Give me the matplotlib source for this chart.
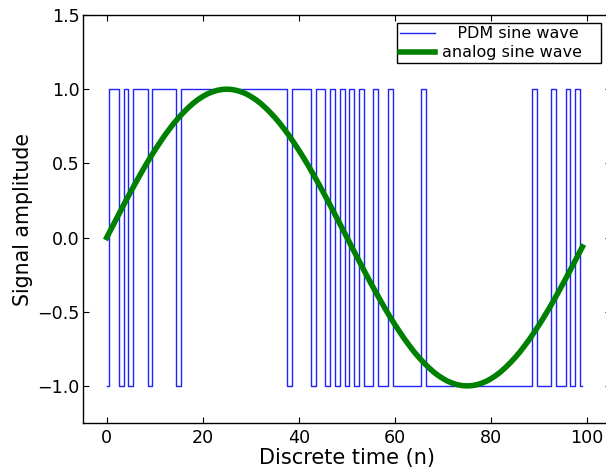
import matplotlib
matplotlib.use('Agg')
import matplotlib.pyplot as plt
import numpy as np

# discrete time index and signal values
n = list(range(100))

pdm = [-1, 1, 1, -1, 1, -1, 1, 1, 1, -1,
       1, 1, 1, 1, 1, -1, 1, 1, 1, 1,
       1, 1, 1, 1, 1, 1, 1, 1, 1, 1,
       1, 1, 1, 1, 1, 1, 1, 1, -1, 1,
       1, 1, 1, -1, 1, 1, -1, 1, -1, 1,
       -1, 1, -1, 1, -1, -1, 1, -1, -1, 1,
       -1, -1, -1, -1, -1, -1, 1, -1, -1, -1,
       -1, -1, -1, -1, -1, -1, -1, -1, -1, -1,
       -1, -1, -1, -1, -1, -1, -1, -1, -1, 1,
       -1, -1, -1, 1, -1, -1, 1, -1, 1, -1]

analog = [0.000, 0.063, 0.125, 0.187, 0.249, 0.309, 0.368, 0.426, 0.482, 0.536,
          0.588, 0.637, 0.685, 0.729, 0.771, 0.809, 0.844, 0.876, 0.905, 0.930,
          0.951, 0.969, 0.982, 0.992, 0.998, 1.000, 0.998, 0.992, 0.982, 0.969,
          0.951, 0.930, 0.905, 0.876, 0.844, 0.809, 0.771, 0.729, 0.685, 0.637,
          0.588, 0.536, 0.482, 0.426, 0.368, 0.309, 0.249, 0.187, 0.125, 0.063,
          0.000, -0.063, -0.125, -0.187, -0.249, -0.309, -0.368, -0.426, -0.482, -0.536,
          -0.588, -0.637, -0.685, -0.729, -0.771, -0.809, -0.844, -0.876, -0.905, -0.930,
          -0.951, -0.969, -0.982, -0.992, -0.998, -1.000, -0.998, -0.992, -0.982, -0.969,
          -0.951, -0.930, -0.905, -0.876, -0.844, -0.809, -0.771, -0.729, -0.685, -0.637,
          -0.588, -0.536, -0.482, -0.426, -0.368, -0.309, -0.249, -0.187, -0.125, -0.063]

xticks = [0, 20, 40, 60, 80, 100]
yticks = [-1.0, -0.5, 0.0, 0.5, 1.0, 1.5]

plt.rcParams['font.family'] = ['DejaVu Sans']

fig = plt.figure(figsize=(6.06, 4.70), dpi=100)
# axes box: left spine ~82.7 px, right spine just past the image edge
ax = fig.add_axes([82.7 / 606, 47 / 470, 528.5 / 606, 408 / 470])

ax.step(n, pdm, where='mid', color='#2222ff', lw=1.0, label='   PDM sine wave   ')
ax.plot(n, analog, color='green', lw=4, solid_joinstyle='round',
        label='analog sine wave   ')

ax.set_xlim(-5, 105)
ax.set_ylim(-1.25, 1.5)
ax.set_xticks(xticks)
ax.set_yticks(yticks)
ax.tick_params(direction='in', top=True, right=True, length=4, labelsize=12.6)
ax.tick_params(axis='x', pad=4)
ax.tick_params(axis='y', pad=2)
for s in ax.spines.values():
    s.set_linewidth(1.0)

ax.set_xlabel('Discrete time (n)', fontsize=15, labelpad=1)
ax.set_ylabel('Signal amplitude', fontsize=14.8, labelpad=3)

leg = ax.legend(loc='upper right', bbox_to_anchor=(0.9803, 0.9804), borderaxespad=0,
                fontsize=11.5, fancybox=False, framealpha=1, edgecolor='black',
                handlelength=2.2, borderpad=0.2, labelspacing=0.25, handletextpad=0.45)
leg.get_frame().set_linewidth(1.0)

plt.savefig('out.png', dpi=100)
plt.close()
